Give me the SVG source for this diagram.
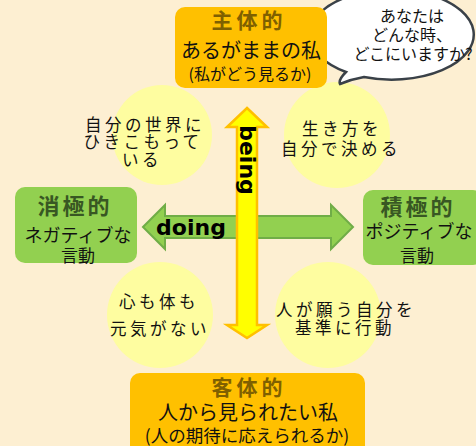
<svg xmlns="http://www.w3.org/2000/svg" width="476" height="446" viewBox="0 0 476 446">
<style>
text{font-family:"Noto Sans CJK JP","Noto Sans",sans-serif;text-anchor:middle;fill:#111}
.circ{fill:#FEFDA0}
.orange{fill:#FFC000}
.green{fill:#92D050}
.ot{font-weight:bold;fill:#7F6000;font-size:21px;letter-spacing:4px}
.gt{font-weight:bold;fill:#385723;font-size:22px;letter-spacing:3px}
.ct{font-size:16.5px;letter-spacing:3.5px}
.en{font-family:"DejaVu Sans",sans-serif;font-weight:bold;font-size:22px;fill:#000}
</style>
<rect width="476" height="446" fill="#FDEFD2"/>
<g id="circle-tl"><circle class="circ" cx="162" cy="135" r="50"/>
<text class="ct" x="145" y="131">自分の世界に</text><text class="ct" x="143" y="148">ひきこもって</text><text class="ct" x="142" y="166">いる</text></g>
<g id="circle-tr"><circle class="circ" cx="337" cy="135" r="53"/>
<text class="ct" x="342" y="135">生き方を</text><text class="ct" x="341" y="155">自分で決める</text></g>
<g id="circle-bl"><circle class="circ" cx="160" cy="315" r="53"/>
<text class="ct" x="159" y="308">心も体も</text><text class="ct" x="160" y="335">元気がない</text></g>
<g id="circle-br"><circle class="circ" cx="328" cy="315" r="53"/>
<text class="ct" x="346" y="316">人が願う自分を</text><text class="ct" x="345" y="334">基準に行動</text></g>
<g id="bubble"><path d="M346,72 Q338,80 340,84 Q352,79 364,77 A82,45 0 1 0 346,72 Z" fill="#fff" stroke="#3A4148" stroke-width="2.5"/>
<text x="412" y="22" font-size="16">あなたは</text><text x="412" y="41" font-size="16">どんな時、</text><text x="413" y="60" font-size="16">どこにいますか?</text></g>
<g id="connectors">
<path d="M143,227 L165,205 L165,216 L331,216 L331,205 L353,227 L331,249 L331,238 L165,238 L165,249 Z" fill="#92D050" stroke="#70AD47" stroke-width="2"/>
<text class="en" x="191" y="235">doing</text>
<path d="M247,108 L267,127 L257,127 L257,325 L267,325 L247,338 L227,325 L237,325 L237,127 L227,127 Z" fill="#FFFF00" stroke="#FFC000" stroke-width="2.5" stroke-linejoin="miter"/>
<text class="en" transform="translate(240,160) rotate(90)">being</text>
</g>
<g id="box-top"><rect class="orange" x="175" y="7" width="152" height="81" rx="10"/>
<text class="ot" x="249" y="28">主体的</text><text x="251" y="58" font-size="20">あるがままの私</text><text x="250" y="80" font-size="16">(私がどう見るか)</text></g>
<g id="box-left"><rect class="green" x="15" y="187" width="122" height="76" rx="10"/>
<text class="gt" x="75" y="214">消極的</text><text x="78" y="242" font-size="18">ネガティブな</text><text x="78" y="262" font-size="17">言動</text></g>
<g id="box-right"><rect class="green" x="363" y="190" width="120" height="75" rx="10"/>
<text class="gt" x="418" y="215">積極的</text><text x="419" y="238" font-size="18">ポジティブな</text><text x="417" y="262" font-size="17">言動</text></g>
<g id="box-bottom"><rect class="orange" x="130" y="373" width="235" height="85" rx="10"/>
<text class="ot" x="249" y="395">客体的</text><text x="248" y="420" font-size="20">人から見られたい私</text><text x="247" y="442" font-size="17.5">(人の期待に応えられるか)</text></g>
</svg>
